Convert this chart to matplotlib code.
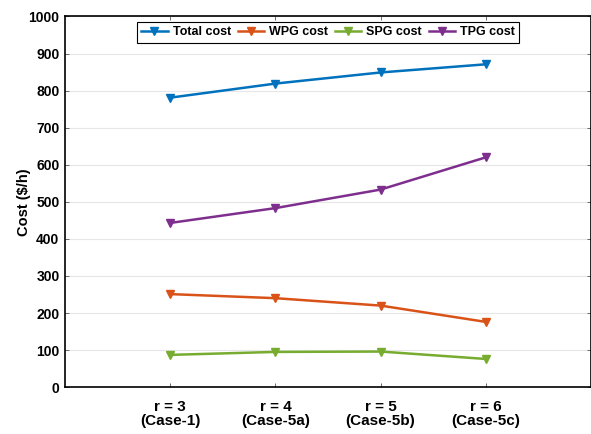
import matplotlib
matplotlib.use('Agg')
import matplotlib.pyplot as plt

# values
cases = ["r = 3\n(Case-1)", "r = 4\n(Case-5a)", "r = 5\n(Case-5b)", "r = 6\n(Case-5c)"]
total_cost = [781, 819, 849, 871]
wpg_cost = [251, 240, 220, 176]
spg_cost = [87, 95, 96, 76]
tpg_cost = [443, 483, 533, 620]
yticks = [0, 100, 200, 300, 400, 500, 600, 700, 800, 900, 1000]

plt.rcParams['font.family'] = ['Liberation Sans', 'DejaVu Sans']
plt.rcParams['font.weight'] = 'bold'

fig = plt.figure(figsize=(5.91, 4.34), dpi=100)
ax = fig.add_axes([0.110, 0.108, 0.890, 0.854])

x = [1, 2, 3, 4]
series = [
    (total_cost, '#0072BD', 'Total cost'),
    (wpg_cost, '#D95319', 'WPG cost'),
    (spg_cost, '#77AC30', 'SPG cost'),
    (tpg_cost, '#7E2F8E', 'TPG cost'),
]
for vals, col, lab in series:
    ax.plot(x, vals, color=col, lw=1.8, marker='v', ms=6, label=lab)

ax.set_xlim(0, 5)
ax.set_ylim(0, 1000)
ax.set_xticks(x)
ax.set_xticklabels(cases, fontsize=11, fontweight='bold', linespacing=1.05)
ax.set_yticks(yticks)
ax.set_yticklabels([str(v) for v in yticks], fontsize=10, fontweight='bold')
ax.tick_params(direction='in', length=3, width=0.6, color='#555555',
               top=True, right=True, pad=4)
ax.tick_params(axis='x', pad=9)
ax.yaxis.grid(True, color='#e6e6e6', lw=0.8)
ax.set_axisbelow(True)
for s in ax.spines.values():
    s.set_linewidth(1.2)
ax.set_ylabel('Cost ($/h)', fontsize=10.5, fontweight='bold', labelpad=10)
ax.yaxis.set_label_coords(-0.065, 0.5)

leg = ax.legend(loc='upper center', ncol=4, frameon=True,
                fancybox=False, edgecolor='black', framealpha=1,
                handlelength=2.1, handletextpad=0.4, columnspacing=0.55,
                borderpad=0.35, borderaxespad=0.45, prop={'weight': 'bold', 'size': 9})
leg.get_frame().set_linewidth(0.8)

plt.savefig('out.png', dpi=100)
